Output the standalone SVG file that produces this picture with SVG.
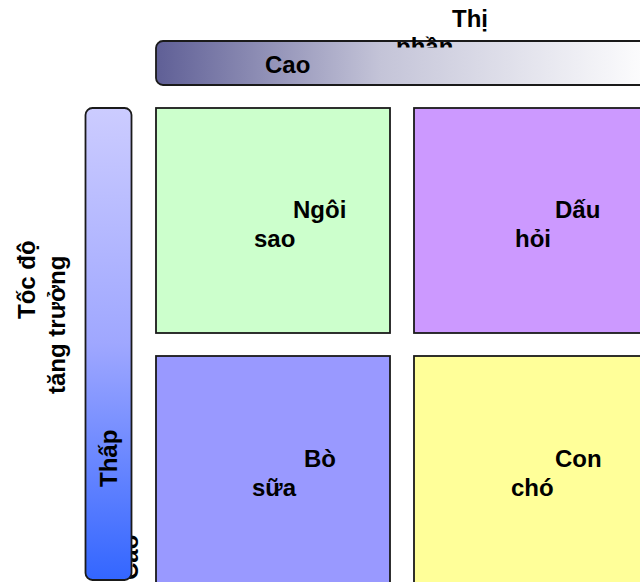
<svg xmlns="http://www.w3.org/2000/svg" width="640" height="582" viewBox="0 0 640 582">
<defs>
<linearGradient id="gTop" x1="0" y1="0" x2="1" y2="0">
<stop offset="0" stop-color="#5f5f96"/>
<stop offset="0.45" stop-color="#c4c4d8"/>
<stop offset="1" stop-color="#ffffff"/>
</linearGradient>
<linearGradient id="gLeft" x1="0" y1="0" x2="0" y2="1">
<stop offset="0" stop-color="#ccccff"/>
<stop offset="0.5" stop-color="#9fa7ff"/>
<stop offset="1" stop-color="#3366ff"/>
</linearGradient>
<clipPath id="clipTitle">
<rect x="300" y="0" width="340" height="47.5"/>
</clipPath>
</defs>
<style>
text{font-family:"Liberation Sans",Arial,sans-serif;font-size:24px;font-weight:bold;fill:#000}
.box{stroke:#1a1a1a;stroke-width:1.8}
</style>
<rect width="640" height="582" fill="#ffffff"/>
<g id="axis-x">
<rect class="box" x="156" y="41" width="500" height="44" rx="7" fill="url(#gTop)"/>
<text x="265" y="73">Cao</text>
<g clip-path="url(#clipTitle)">
<text x="452" y="27">Thị</text>
<text x="396" y="55">phần</text>
</g>
</g>
<g id="axis-y">
<text transform="translate(35,319) rotate(-90)">Tốc độ</text>
<text transform="translate(65,394) rotate(-90)">tăng trưởng</text>
<text transform="translate(138,580) rotate(-90)">Cao</text>
<rect class="box" x="85.5" y="108" width="46" height="472" rx="7" fill="url(#gLeft)"/>
<text transform="translate(117,487) rotate(-90)">Thấp</text>
</g>
<g id="star">
<rect class="box" x="156" y="108" width="234" height="225" fill="#ccffcc"/>
<text x="293" y="218">Ngôi</text>
<text x="254" y="247">sao</text>
</g>
<g id="question">
<rect class="box" x="414" y="108" width="240" height="225" fill="#cc99ff"/>
<text x="555" y="218">Dấu</text>
<text x="515" y="247">hỏi</text>
</g>
<g id="cow">
<rect class="box" x="156" y="356" width="234" height="240" fill="#9999ff"/>
<text x="304" y="467">Bò</text>
<text x="252" y="496">sữa</text>
</g>
<g id="dog">
<rect class="box" x="414" y="356" width="240" height="240" fill="#ffff99"/>
<text x="555" y="467">Con</text>
<text x="511" y="496">chó</text>
</g>
<g id="connectors"/>
</svg>
